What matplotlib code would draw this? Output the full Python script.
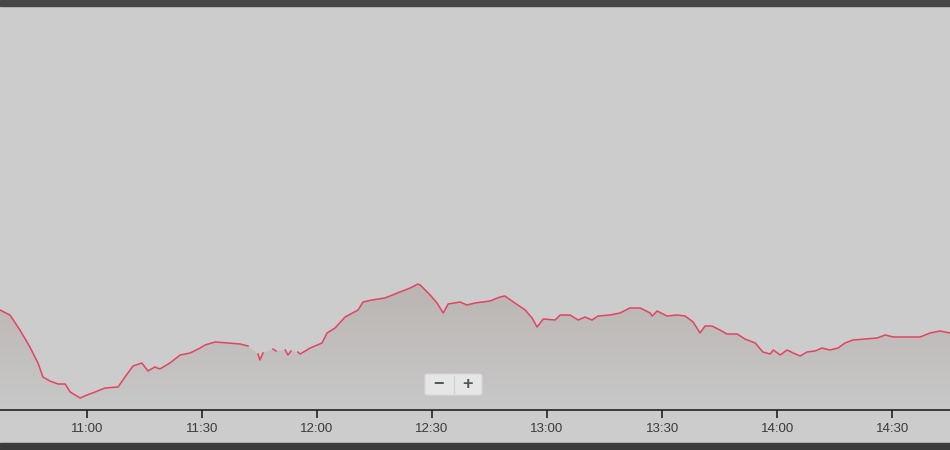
import numpy as np
import matplotlib
matplotlib.use("Agg")
import matplotlib.pyplot as plt
from matplotlib.patches import Rectangle, FancyBboxPatch
from matplotlib.ticker import FuncFormatter, MultipleLocator

# time in minutes after midnight, value (arbitrary units), nan = missing sample
minutes = [637.3, 639.9, 642.5, 645.1, 647.2, 648.5, 650.3, 652.4, 654.3, 655.6,
           658.2, 660.0, 662.1, 664.7, 668.1, 669.9, 672.0, 674.3, 675.9, 677.7,
           679.0, 681.6, 684.3, 686.9, 689.5, 690.8, 693.4, 696.8, 699.9, 702.0,
           703.0, 704.6, 705.1, 705.9, 707.2, 708.5, 709.3, 710.3, 711.7, 712.4,
           713.2, 714.3, 715.0, 715.6, 718.2, 721.3, 722.6, 724.7, 727.3, 730.7,
           732.0, 734.3, 737.7, 741.6, 744.3, 746.3, 746.9, 749.5, 751.3, 752.9,
           754.2, 757.3, 759.1, 761.2, 765.1, 767.7, 769.0, 771.6, 774.3, 776.1,
           777.4, 779.0, 782.1, 783.4, 786.0, 788.1, 789.9, 791.7, 793.3, 796.4,
           799.0, 801.6, 804.3, 806.9, 807.4, 808.7, 811.3, 813.9, 816.0, 818.1,
           819.9, 821.2, 823.0, 825.1, 826.9, 829.6, 831.6, 834.3, 836.3, 838.2,
           839.0, 840.8, 842.6, 844.2, 846.0, 847.8, 849.9, 851.7, 853.8, 855.9,
           857.7, 859.8, 863.0, 866.1, 868.2, 870.3, 872.1, 874.7, 877.3, 879.9,
           882.5, 885.1]
values = [100, 95, 80, 63, 47, 33, 29, 26, 26, 18,
          12, 15, 18, 22, 23, 33, 44, 47, 39, 43,
          41, 47, 55, 57, 62, 65, 68, 67, 66, 64,
          np.nan, 56, 50, 57, np.nan, 61, 59, np.nan, 60, 55,
          59, np.nan, 58, 56, 62, 67, 77, 82, 93, 100,
          108, 110, 112, 118, 122, 126, 125, 115, 107, 97,
          106, 108, 105, 107, 109, 113, 114, 107, 100, 92,
          83, 91, 90, 95, 95, 90, 93, 90, 94, 95,
          97, 102, 102, 97, 94, 99, 94, 95, 94, 88,
          77, 84, 84, 80, 76, 76, 71, 67, 58, 56,
          60, 55, 60, 57, 54, 58, 59, 62, 60, 62,
          67, 70, 71, 72, 75, 73, 73, 73, 73, 77,
          79, 77]

x = np.array(minutes)
y = np.array(values, dtype=float)

plt.rcParams['font.family'] = ['Liberation Sans', 'DejaVu Sans']

bg = "#cccccc"
fig = plt.figure(figsize=(9.5, 4.5), dpi=100, facecolor=bg)
ax = fig.add_axes([0, 40 / 450, 1, 404 / 450])
ax.set_facecolor(bg)
ax.set_xlim(x[0], x[-1])

# gradient fill under the line
ok = ~np.isnan(y)
poly = ax.fill_between(x[ok], y[ok], 0, color="none", lw=0)
grad = np.linspace(0, 1, 256)[:, None]
top_c = np.array([0.73, 0.71, 0.70])
bot_c = np.array([0.785, 0.785, 0.785])
img = top_c * (1 - grad) + bot_c * grad
im = ax.imshow(img[:, None, :].repeat(2, axis=1), extent=[x[0], x[-1], 0, 126],
               aspect="auto", origin="upper", zorder=1)
im.set_clip_path(poly.get_paths()[0], transform=ax.transData)
ax.set_ylim(0, 404)

ax.plot(x, y, color="#e2445f", lw=1.1, zorder=3)

for s in ["top", "left", "right"]:
    ax.spines[s].set_visible(False)
ax.spines["bottom"].set_color("#222222")
ax.spines["bottom"].set_linewidth(1.2)
ax.set_yticks([])
ax.xaxis.set_major_locator(MultipleLocator(30))
ax.xaxis.set_major_formatter(FuncFormatter(lambda v, p: f"{int(v // 60)}:{int(v % 60):02d}"))
ax.tick_params(axis="x", length=6, width=1.2, color="#222222", labelsize=9.5,
               labelcolor="#3a3a3a", pad=3)

# top and bottom dark bars
fig.patches.append(Rectangle((0, 444 / 450), 1, 6 / 450, transform=fig.transFigure,
                             color="#474747", zorder=0))
fig.patches.append(Rectangle((0, 0), 1, 7 / 450, transform=fig.transFigure,
                             color="#3c3c3c", zorder=0))

# zoom control
btn = FancyBboxPatch((425 / 950, (450 - 395) / 450), 57 / 950, 21 / 450,
                     boxstyle="round,pad=0,rounding_size=0.004",
                     transform=fig.transFigure, facecolor="#e6e6e6",
                     edgecolor="#d8d8d8", lw=0.8, zorder=5)
fig.patches.append(btn)
fig.lines.append(plt.Line2D([453.5 / 950, 453.5 / 950], [57 / 450, 74 / 450],
                            transform=fig.transFigure, color="#d0d0d0", lw=0.8, zorder=6))
fig.text(439 / 950, 65.5 / 450, "−", ha="center", va="center", fontsize=13,
         fontweight="bold", color="#555555", zorder=7)
fig.text(467.5 / 950, 65.5 / 450, "+", ha="center", va="center", fontsize=13,
         fontweight="bold", color="#555555", zorder=7)

fig.savefig("out.png", dpi=100, facecolor=bg)
